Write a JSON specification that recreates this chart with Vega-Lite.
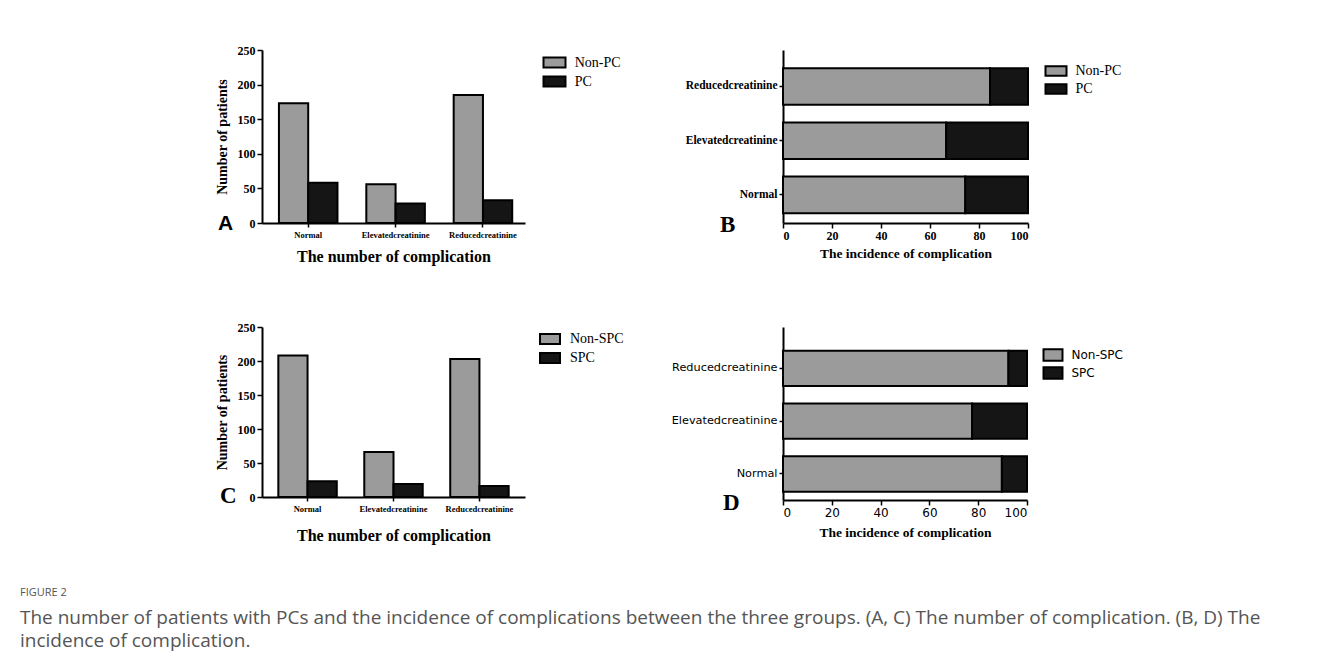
{
  "$schema": "https://vega.github.io/schema/vega-lite/v6.json",
  "padding": {"left": 20, "top": 44, "right": 5, "bottom": 5},
  "background": "white",
  "datasets": {
    "countPC": [
      {"category": "Normal", "group": "Non-PC", "patients": 173},
      {"category": "Normal", "group": "PC", "patients": 58},
      {"category": "Elevatedcreatinine", "group": "Non-PC", "patients": 56},
      {"category": "Elevatedcreatinine", "group": "PC", "patients": 28},
      {"category": "Reducedcreatinine", "group": "Non-PC", "patients": 185},
      {"category": "Reducedcreatinine", "group": "PC", "patients": 33}
    ],
    "ratePC": [
      {"category": "Reducedcreatinine", "group": "Non-PC", "incidence": 84.5},
      {"category": "Reducedcreatinine", "group": "PC", "incidence": 15.5},
      {"category": "Elevatedcreatinine", "group": "Non-PC", "incidence": 66.6},
      {"category": "Elevatedcreatinine", "group": "PC", "incidence": 33.4},
      {"category": "Normal", "group": "Non-PC", "incidence": 74.4},
      {"category": "Normal", "group": "PC", "incidence": 25.6}
    ],
    "countSPC": [
      {"category": "Normal", "group": "Non-SPC", "patients": 208},
      {"category": "Normal", "group": "SPC", "patients": 23},
      {"category": "Elevatedcreatinine", "group": "Non-SPC", "patients": 66},
      {"category": "Elevatedcreatinine", "group": "SPC", "patients": 19},
      {"category": "Reducedcreatinine", "group": "Non-SPC", "patients": 203},
      {"category": "Reducedcreatinine", "group": "SPC", "patients": 16}
    ],
    "rateSPC": [
      {"category": "Reducedcreatinine", "group": "Non-SPC", "incidence": 92.4},
      {"category": "Reducedcreatinine", "group": "SPC", "incidence": 7.6},
      {"category": "Elevatedcreatinine", "group": "Non-SPC", "incidence": 77.5},
      {"category": "Elevatedcreatinine", "group": "SPC", "incidence": 22.5},
      {"category": "Normal", "group": "Non-SPC", "incidence": 89.7},
      {"category": "Normal", "group": "SPC", "incidence": 10.3}
    ]
  },
  "title": {
    "text": "FIGURE 2",
    "subtitle": [
      "The number of patients with PCs and the incidence of complications between the three groups. (A, C) The number of complication. (B, D) The",
      "incidence of complication."
    ],
    "orient": "bottom",
    "anchor": "start",
    "frame": "group",
    "dx": -242,
    "offset": 43,
    "font": "Open Sans",
    "fontSize": 11,
    "fontWeight": "normal",
    "color": "#555555",
    "subtitleFont": "Open Sans",
    "subtitleFontSize": 19,
    "subtitleColor": "#555555",
    "subtitleLineHeight": 23.5,
    "subtitlePadding": 11
  },
  "bounds": "flush",
  "columns": 2,
  "spacing": {"row": 104, "column": 258},
  "concat": [
    {
      "width": 263,
      "height": 173,
      "data": {"name": "countPC"},
      "title": {"text": "A", "orient": "bottom", "anchor": "start", "frame": "group", "dx": -44, "dy": -56, "font": "Liberation Sans", "fontWeight": "bold", "fontSize": 21, "color": "#000"},
      "mark": {"type": "bar", "stroke": "#000", "strokeWidth": 2},
      "encoding": {
        "x": {
          "field": "category", "type": "nominal",
          "sort": ["Normal", "Elevatedcreatinine", "Reducedcreatinine"],
          "scale": {"paddingInner": 0.33, "paddingOuter": 0.17, "align": 0.57},
          "axis": {"title": "The number of complication", "labelAngle": 0, "labelFont": "Liberation Serif", "labelFontWeight": "bold", "labelFontSize": 8.5, "labelPadding": 3, "tickSize": 4, "tickWidth": 1.5, "domainWidth": 2, "titleFont": "Liberation Serif", "titleFontWeight": "bold", "titleFontSize": 16, "titlePadding": 10}
        },
        "xOffset": {"field": "group", "type": "nominal", "scale": {"domain": ["Non-PC", "PC"], "paddingInner": 0, "paddingOuter": 0}},
        "y": {
          "field": "patients", "type": "quantitative",
          "scale": {"domain": [0, 250], "nice": false},
          "axis": {"title": "Number of patients", "values": [0, 50, 100, 150, 200, 250], "labelFont": "Liberation Serif", "labelFontWeight": "bold", "labelFontSize": 12, "tickSize": 5, "tickWidth": 1.5, "domainWidth": 2, "titleFont": "Liberation Serif", "titleFontWeight": "bold", "titleFontSize": 14, "titlePadding": 8}
        },
        "color": {
          "field": "group", "type": "nominal",
          "scale": {"domain": ["Non-PC", "PC"], "range": ["#9b9b9b", "#151515"]},
          "legend": {"title": null, "orient": "right", "offset": 16.7, "padding": 4, "symbolType": "M-1.5,-0.68L1.5,-0.68L1.5,0.68L-1.5,0.68Z", "symbolSize": 215, "symbolStrokeColor": "#000", "symbolStrokeWidth": 2, "labelFont": "Liberation Serif", "labelFontSize": 14, "labelColor": "#000", "labelOffset": 11.7, "rowPadding": 0}
        }
      }
    },
    {
      "width": 245,
      "height": 173,
      "data": {"name": "ratePC"},
      "title": {"text": "B", "orient": "bottom", "anchor": "start", "frame": "group", "dx": -63, "dy": -50, "font": "Liberation Serif", "fontWeight": "bold", "fontSize": 23, "color": "#000"},
      "mark": {"type": "bar", "stroke": "#000", "strokeWidth": 2},
      "encoding": {
        "y": {
          "field": "category", "type": "nominal",
          "sort": ["Reducedcreatinine", "Elevatedcreatinine", "Normal"],
          "scale": {"paddingInner": 0.325, "paddingOuter": 0.258, "align": 0.65},
          "axis": {"title": null, "labelFont": "Liberation Serif", "labelFontWeight": "bold", "labelFontSize": 11.5, "tickSize": 4, "tickWidth": 1.5, "domainWidth": 2, "labelPadding": 2}
        },
        "x": {
          "field": "incidence", "type": "quantitative", "stack": "zero",
          "scale": {"domain": [0, 100], "nice": false},
          "axis": {"title": "The incidence of complication", "values": [0, 20, 40, 60, 80, 100], "labelFont": "Liberation Serif", "labelFontWeight": "bold", "labelFontSize": 12, "tickSize": 5, "tickWidth": 1.5, "domainWidth": 2, "titleFont": "Liberation Serif", "titleFontWeight": "bold", "titleFontSize": 13.5, "titlePadding": 5}
        },
        "color": {
          "field": "group", "type": "nominal",
          "scale": {"domain": ["Non-PC", "PC"], "range": ["#9b9b9b", "#151515"]},
          "legend": {"title": null, "orient": "right", "offset": 6.5, "padding": 13, "symbolType": "M-1.5,-0.68L1.5,-0.68L1.5,0.68L-1.5,0.68Z", "symbolSize": 196, "symbolStrokeColor": "#000", "symbolStrokeWidth": 2, "labelFont": "Liberation Serif", "labelFontSize": 14, "labelColor": "#000", "labelOffset": 11.5, "rowPadding": 0}
        }
      }
    },
    {
      "width": 263,
      "height": 170,
      "data": {"name": "countSPC"},
      "title": {"text": "C", "orient": "bottom", "anchor": "start", "frame": "group", "dx": -42, "dy": -63, "font": "Liberation Serif", "fontWeight": "bold", "fontSize": 23, "color": "#000"},
      "mark": {"type": "bar", "stroke": "#000", "strokeWidth": 2},
      "encoding": {
        "x": {
          "field": "category", "type": "nominal",
          "sort": ["Normal", "Elevatedcreatinine", "Reducedcreatinine"],
          "scale": {"paddingInner": 0.32, "paddingOuter": 0.19, "align": 0.5},
          "axis": {"title": "The number of complication", "labelAngle": 0, "labelFont": "Liberation Serif", "labelFontWeight": "bold", "labelFontSize": 8.5, "labelPadding": 3, "tickSize": 4, "tickWidth": 1.5, "domainWidth": 2, "titleFont": "Liberation Serif", "titleFontWeight": "bold", "titleFontSize": 16, "titlePadding": 15}
        },
        "xOffset": {"field": "group", "type": "nominal", "scale": {"domain": ["Non-SPC", "SPC"], "paddingInner": 0, "paddingOuter": 0}},
        "y": {
          "field": "patients", "type": "quantitative",
          "scale": {"domain": [0, 250], "nice": false},
          "axis": {"title": "Number of patients", "values": [0, 50, 100, 150, 200, 250], "labelFont": "Liberation Serif", "labelFontWeight": "bold", "labelFontSize": 12, "tickSize": 5, "tickWidth": 1.5, "domainWidth": 2, "titleFont": "Liberation Serif", "titleFontWeight": "bold", "titleFontSize": 14, "titlePadding": 8}
        },
        "color": {
          "field": "group", "type": "nominal",
          "scale": {"domain": ["Non-SPC", "SPC"], "range": ["#9b9b9b", "#151515"]},
          "legend": {"title": null, "orient": "right", "offset": 13, "padding": 4, "symbolType": "M-1.5,-0.75L1.5,-0.75L1.5,0.75L-1.5,0.75Z", "symbolSize": 178, "symbolStrokeColor": "#000", "symbolStrokeWidth": 2, "labelFont": "Liberation Serif", "labelFontSize": 14, "labelColor": "#000", "labelOffset": 12, "rowPadding": -1}
        }
      }
    },
    {
      "width": 244,
      "height": 173,
      "data": {"name": "rateSPC"},
      "title": {"text": "D", "orient": "bottom", "anchor": "start", "frame": "group", "dx": -60, "dy": -51, "font": "Liberation Serif", "fontWeight": "bold", "fontSize": 23, "color": "#000"},
      "mark": {"type": "bar", "stroke": "#000", "strokeWidth": 2},
      "encoding": {
        "y": {
          "field": "category", "type": "nominal",
          "sort": ["Reducedcreatinine", "Elevatedcreatinine", "Normal"],
          "scale": {"paddingInner": 0.33, "paddingOuter": 0.303, "align": 0.74},
          "axis": {"title": null, "labelFont": "DejaVu Sans", "labelFontSize": 11.3, "tickSize": 4, "tickWidth": 1.5, "domainWidth": 2, "labelPadding": 2}
        },
        "x": {
          "field": "incidence", "type": "quantitative", "stack": "zero",
          "scale": {"domain": [0, 100], "nice": false},
          "axis": {"title": "The incidence of complication", "values": [0, 20, 40, 60, 80, 100], "labelFont": "DejaVu Sans", "labelFontSize": 12, "tickSize": 5, "tickWidth": 1.5, "domainWidth": 2, "titleFont": "Liberation Serif", "titleFontWeight": "bold", "titleFontSize": 13.5, "titlePadding": 7}
        },
        "color": {
          "field": "group", "type": "nominal",
          "scale": {"domain": ["Non-SPC", "SPC"], "range": ["#9b9b9b", "#151515"]},
          "legend": {"title": null, "orient": "right", "offset": -2, "padding": 20.5, "symbolType": "M-1.5,-0.9L1.5,-0.9L1.5,0.9L-1.5,0.9Z", "symbolSize": 160, "symbolStrokeColor": "#000", "symbolStrokeWidth": 2, "labelFont": "DejaVu Sans", "labelFontSize": 12, "labelColor": "#000", "labelOffset": 11, "rowPadding": -3}
        }
      }
    }
  ],
  "resolve": {"scale": {"color": "independent", "x": "independent", "y": "independent", "xOffset": "independent"}, "legend": {"color": "independent"}},
  "config": {
    "view": {"stroke": null},
    "scale": {"offsetBandPaddingInner": 0, "offsetBandPaddingOuter": 0},
    "axis": {"grid": false, "domainColor": "#000", "tickColor": "#000", "labelColor": "#000", "titleColor": "#000"}
  }
}
